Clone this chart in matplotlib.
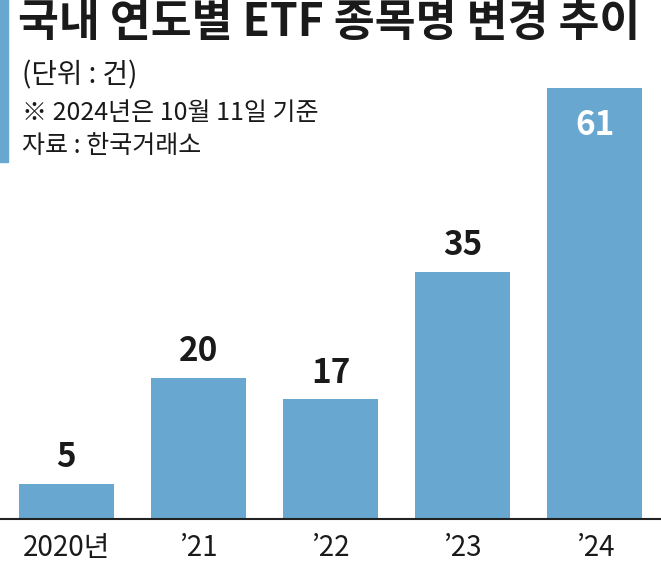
import matplotlib.pyplot as plt
from matplotlib.patches import Rectangle

plt.rcParams["font.family"] = ["Noto Sans CJK KR", "DejaVu Sans"]

YEARS = ["2020년", "’21", "’22", "’23", "’24"]
COUNTS = [5, 20, 17, 35, 61]

TITLE = "국내 연도별 ETF 종목명 변경 추이"
UNIT = "(단위 : 건)"
NOTE = "※ 2024년은 10월 11일 기준"
SOURCE = "자료 : 한국거래소"

BAR_COLOR = "#68a8d0"

fig = plt.figure(figsize=(6.61, 5.67), dpi=100)
ax = fig.add_axes([0, 48 / 567, 1, 519 / 567])

x = range(len(YEARS))
bars = ax.bar(x, COUNTS, width=0.72, color=BAR_COLOR)
ax.set_xlim(-0.5, 4.5)
ax.set_ylim(0, 73.4)

for i, (bar, v) in enumerate(zip(bars, COUNTS)):
    if i == len(COUNTS) - 1:
        ax.text(bar.get_x() + bar.get_width() / 2, v - 3.0, str(v), ha="center", va="top",
                fontsize=24, fontweight="bold", color="white")
    else:
        ax.text(bar.get_x() + bar.get_width() / 2, v + 1.3, str(v), ha="center", va="bottom",
                fontsize=24, fontweight="bold", color="#1a1a1a")

for s in ["top", "right", "left"]:
    ax.spines[s].set_visible(False)
ax.spines["bottom"].set_linewidth(1.5)
ax.spines["bottom"].set_color("#222222")
ax.set_yticks([])
ax.set_xticks(list(x))
ax.set_xticklabels(YEARS, fontsize=20, color="#1a1a1a")
ax.tick_params(axis="x", length=0, pad=10)

# left accent bar
fig.patches.append(Rectangle((0, 1 - 162 / 567), 8 / 661, 162 / 567,
                             transform=fig.transFigure, color=BAR_COLOR))

fig.text(18 / 661, 1 - 23 / 567, TITLE, fontsize=32, fontweight="heavy", color="#1a1a1a", va="center")
fig.text(22 / 661, 1 - 75 / 567, UNIT, fontsize=20, color="#1a1a1a", va="center")
fig.text(22 / 661, 1 - 113 / 567, NOTE, fontsize=18, color="#1a1a1a", va="center")
fig.text(22 / 661, 1 - 146 / 567, SOURCE, fontsize=18, color="#1a1a1a", va="center")

fig.savefig("out.png", dpi=100)
